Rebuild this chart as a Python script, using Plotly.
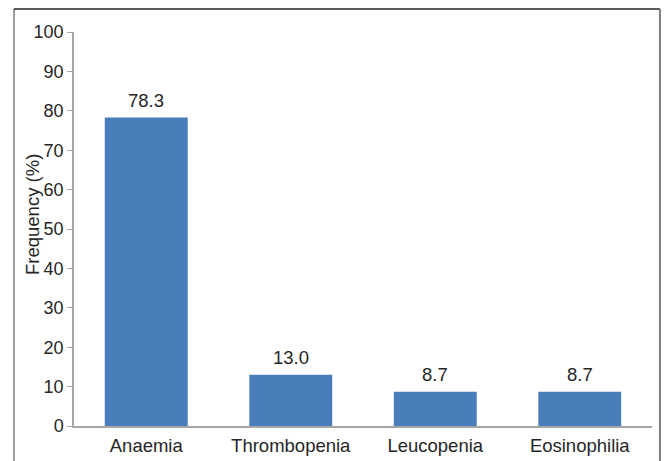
import plotly.graph_objects as go

categories = ["Anaemia", "Thrombopenia", "Leucopenia", "Eosinophilia"]
frequency = [78.3, 13.0, 8.7, 8.7]
y_ticks = list(range(0, 101, 10))

FONT = "Liberation Sans, Arial, sans-serif"
TEXT = "#262626"
BAR = "#4a7ebb"
AXIS = "#a6a6a6"

fig = go.Figure(
    go.Bar(
        x=categories,
        y=frequency,
        marker=dict(color=BAR, line=dict(width=0)),
        hoverinfo="skip",
    )
)

# value labels above each bar
for cat, val in zip(categories, frequency):
    fig.add_annotation(
        x=cat, y=val, text=f"{val:.1f}", showarrow=False,
        yanchor="bottom", yshift=5,
        font=dict(family=FONT, size=18.5, color=TEXT),
    )

# rotated y-axis title
fig.add_annotation(
    xref="paper", yref="paper", x=-0.0727, y=0.538,
    text="Frequency (%)", textangle=-90, showarrow=False,
    xanchor="center", yanchor="middle",
    font=dict(family=FONT, size=18.5, color=TEXT),
)

# outer frame around the figure
frame = [
    dict(x0=-0.1038, x1=-0.1038, y0=-0.2, y1=1.0584, color="#7f7f7f", width=1.5),
    dict(x0=-0.1038, x1=1.0138, y0=1.0584, y1=1.0584, color="#222222", width=1.5),
    dict(x0=1.0138, x1=1.0138, y0=-0.2, y1=1.0584, color="#7f7f7f", width=2),
]
for f in frame:
    fig.add_shape(
        type="line", xref="paper", yref="paper",
        x0=f["x0"], x1=f["x1"], y0=f["y0"], y1=f["y1"],
        line=dict(color=f["color"], width=f["width"]),
    )

fig.update_layout(
    width=665, height=461,
    margin=dict(l=74, r=13, t=32, b=35),
    paper_bgcolor="white", plot_bgcolor="white",
    bargap=0.426,
    showlegend=False,
    font=dict(family=FONT, size=18, color=TEXT),
    xaxis=dict(
        automargin=False,
        showline=True, linecolor=AXIS, linewidth=1.5,
        ticks="", showgrid=False, zeroline=False,
        ticklabelstandoff=2,
        tickfont=dict(family=FONT, size=18.5, color=TEXT),
    ),
    yaxis=dict(
        automargin=False,
        range=[0, 100], tickvals=y_ticks,
        showline=True, linecolor=AXIS, linewidth=1.5,
        ticks="outside", ticklen=5, tickcolor=AXIS, tickwidth=1,
        showgrid=False, zeroline=False,
        tickfont=dict(family=FONT, size=18, color=TEXT),
    ),
)

fig.write_html("out.html")
